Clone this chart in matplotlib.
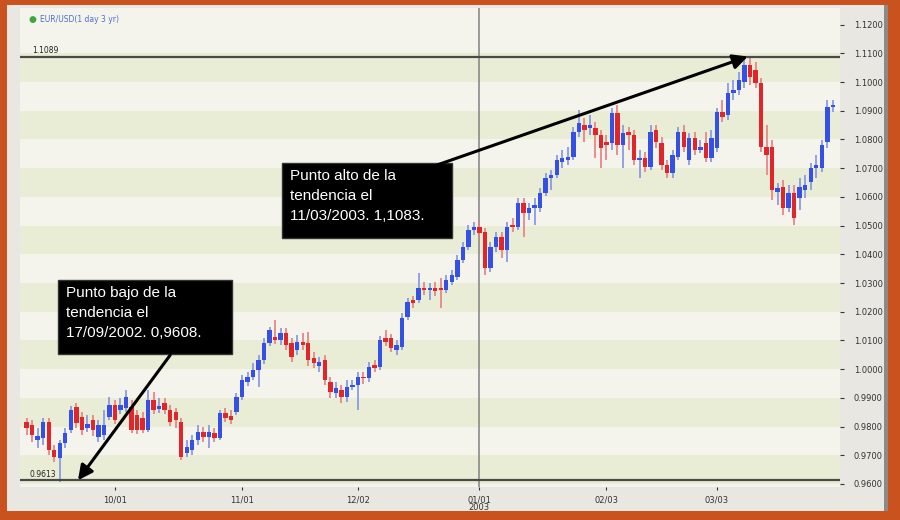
import numpy as np
import pandas as pd
import matplotlib
matplotlib.use('Agg')
import matplotlib.pyplot as plt
from matplotlib.patches import Rectangle

# EUR/USD daily candles, Sep 2002 - Mar 2003
dates = pd.bdate_range('2002-09-09', periods=147)

opens = [0.9816, 0.9806, 0.9753, 0.9760, 0.9816, 0.9718, 0.9691, 0.9743, 0.9788, 0.9868,
         0.9833, 0.9795, 0.9823, 0.9764, 0.9771, 0.9833, 0.9875, 0.9858, 0.9865, 0.9868,
         0.9840, 0.9830, 0.9788, 0.9893, 0.9861, 0.9882, 0.9858, 0.9851, 0.9816, 0.9708,
         0.9718, 0.9753, 0.9781, 0.9764, 0.9778, 0.9760, 0.9847, 0.9837, 0.9851, 0.9903,
         0.9955, 0.9973, 0.9997, 1.0032, 1.0091, 1.0112, 1.0102, 1.0126, 1.0091, 1.0067,
         1.0095, 1.0091, 1.0039, 1.0011, 1.0032, 0.9955, 0.9917, 0.9927, 0.9903, 0.9938,
         0.9945, 0.9973, 0.9969, 1.0015, 1.0008, 1.0109, 1.0109, 1.0067, 1.0077, 1.0182,
         1.0241, 1.0241, 1.0283, 1.0276, 1.0283, 1.0283, 1.0276, 1.0304, 1.0321, 1.0380,
         1.0426, 1.0485, 1.0495, 1.0478, 1.0353, 1.0426, 1.0461, 1.0415, 1.0502, 1.0495,
         1.0579, 1.0544, 1.0562, 1.0562, 1.0614, 1.0666, 1.0677, 1.0722, 1.0729, 1.0739,
         1.0826, 1.0851, 1.0840, 1.0840, 1.0816, 1.0792, 1.0788, 1.0893, 1.0781, 1.0826,
         1.0816, 1.0729, 1.0736, 1.0704, 1.0833, 1.0788, 1.0711, 1.0684, 1.0739, 1.0826,
         1.0729, 1.0805, 1.0764, 1.0788, 1.0736, 1.0771, 1.0896, 1.0886, 1.0962, 1.0973,
         1.1001, 1.1060, 1.1042, 1.0997, 1.0774, 1.0774, 1.0617, 1.0635, 1.0562, 1.0614,
         1.0596, 1.0624, 1.0652, 1.0701, 1.0701, 1.0792, 1.0913]
closes = [0.9795, 0.9771, 0.9767, 0.9816, 0.9718, 0.9694, 0.9743, 0.9778, 0.9858, 0.9813,
          0.9788, 0.9809, 0.9788, 0.9806, 0.9806, 0.9875, 0.9823, 0.9875, 0.9903, 0.9788,
          0.9788, 0.9788, 0.9893, 0.9858, 0.9872, 0.9858, 0.9816, 0.9823, 0.9694, 0.9729,
          0.9753, 0.9781, 0.9764, 0.9781, 0.9760, 0.9847, 0.9830, 0.9823, 0.9903, 0.9962,
          0.9973, 0.9997, 1.0032, 1.0091, 1.0137, 1.0102, 1.0126, 1.0084, 1.0042, 1.0095,
          1.0084, 1.0032, 1.0022, 1.0025, 0.9962, 0.9921, 0.9934, 0.9903, 0.9938, 0.9945,
          0.9973, 0.9969, 1.0008, 1.0004, 1.0102, 1.0095, 1.0074, 1.0084, 1.0178, 1.0234,
          1.0231, 1.0283, 1.0276, 1.0283, 1.0272, 1.0276, 1.0311, 1.0328, 1.0380, 1.0426,
          1.0485, 1.0495, 1.0474, 1.0353, 1.0426, 1.0461, 1.0415, 1.0495, 1.0495, 1.0579,
          1.0544, 1.0562, 1.0572, 1.0614, 1.0666, 1.0677, 1.0729, 1.0736, 1.0739, 1.0826,
          1.0858, 1.0833, 1.0851, 1.0816, 1.0771, 1.0781, 1.0893, 1.0781, 1.0823, 1.0816,
          1.0729, 1.0736, 1.0704, 1.0826, 1.0792, 1.0711, 1.0684, 1.0746, 1.0826, 1.0774,
          1.0805, 1.0764, 1.0774, 1.0736, 1.0805, 1.0896, 1.0879, 1.0962, 1.0973, 1.1008,
          1.1060, 1.1018, 1.0997, 1.0774, 1.0746, 1.0624, 1.0631, 1.0562, 1.0614, 1.0527,
          1.0635, 1.0642, 1.0701, 1.0711, 1.0781, 1.0913, 1.0920]
highs = [0.9830, 0.9823, 0.9795, 0.9830, 0.9830, 0.9736, 0.9753, 0.9795, 0.9872, 0.9882,
         0.9851, 0.9840, 0.9840, 0.9823, 0.9858, 0.9903, 0.9893, 0.9900, 0.9927, 0.9893,
         0.9858, 0.9851, 0.9927, 0.9921, 0.9900, 0.9900, 0.9875, 0.9865, 0.9830, 0.9753,
         0.9771, 0.9806, 0.9799, 0.9806, 0.9795, 0.9858, 0.9865, 0.9858, 0.9917, 0.9980,
         0.9990, 1.0022, 1.0049, 1.0109, 1.0147, 1.0171, 1.0144, 1.0144, 1.0109, 1.0119,
         1.0126, 1.0130, 1.0060, 1.0042, 1.0049, 0.9973, 0.9955, 0.9945, 0.9962, 0.9962,
         0.9990, 0.9990, 1.0025, 1.0032, 1.0116, 1.0137, 1.0123, 1.0102, 1.0196, 1.0248,
         1.0255, 1.0335, 1.0304, 1.0300, 1.0304, 1.0318, 1.0328, 1.0346, 1.0398, 1.0443,
         1.0502, 1.0513, 1.0513, 1.0492, 1.0443, 1.0478, 1.0478, 1.0513, 1.0527, 1.0596,
         1.0596, 1.0579, 1.0596, 1.0631, 1.0684, 1.0694, 1.0746, 1.0764, 1.0774, 1.0844,
         1.0903, 1.0875, 1.0886, 1.0861, 1.0833, 1.0816, 1.0910, 1.0920, 1.0851, 1.0844,
         1.0833, 1.0764, 1.0757, 1.0851, 1.0851, 1.0809, 1.0729, 1.0764, 1.0844, 1.0851,
         1.0823, 1.0826, 1.0799, 1.0826, 1.0833, 1.0910, 1.0938, 1.0997, 1.1008, 1.1035,
         1.1077, 1.1083, 1.1070, 1.1014, 1.0851, 1.0799, 1.0649, 1.0659, 1.0642, 1.0642,
         1.0666, 1.0677, 1.0718, 1.0746, 1.0799, 1.0938, 1.0938]
lows = [0.9771, 0.9746, 0.9725, 0.9736, 0.9701, 0.9677, 0.9608, 0.9725, 0.9778, 0.9795,
        0.9771, 0.9781, 0.9767, 0.9746, 0.9753, 0.9823, 0.9809, 0.9844, 0.9851, 0.9778,
        0.9774, 0.9778, 0.9781, 0.9844, 0.9847, 0.9844, 0.9802, 0.9795, 0.9684, 0.9694,
        0.9701, 0.9736, 0.9746, 0.9725, 0.9746, 0.9753, 0.9816, 0.9809, 0.9840, 0.9893,
        0.9941, 0.9962, 0.9938, 1.0018, 1.0081, 1.0088, 1.0084, 1.0067, 1.0025, 1.0049,
        1.0067, 1.0011, 1.0004, 0.9990, 0.9945, 0.9900, 0.9900, 0.9882, 0.9886, 0.9927,
        0.9858, 0.9948, 0.9955, 0.9990, 0.9997, 1.0081, 1.0060, 1.0049, 1.0067, 1.0171,
        1.0213, 1.0231, 1.0258, 1.0241, 1.0255, 1.0213, 1.0265, 1.0293, 1.0311, 1.0370,
        1.0415, 1.0468, 1.0457, 1.0328, 1.0339, 1.0408, 1.0387, 1.0373, 1.0478, 1.0485,
        1.0461, 1.0520, 1.0502, 1.0548, 1.0603, 1.0624, 1.0666, 1.0701, 1.0711, 1.0729,
        1.0809, 1.0792, 1.0816, 1.0736, 1.0701, 1.0729, 1.0764, 1.0746, 1.0701, 1.0764,
        1.0711, 1.0666, 1.0687, 1.0694, 1.0771, 1.0694, 1.0666, 1.0666, 1.0729, 1.0757,
        1.0711, 1.0746, 1.0753, 1.0722, 1.0722, 1.0757, 1.0861, 1.0868, 1.0938, 1.0955,
        1.0980, 1.0990, 1.0980, 1.0757, 1.0677, 1.0589, 1.0572, 1.0537, 1.0548, 1.0502,
        1.0555, 1.0596, 1.0624, 1.0666, 1.0687, 1.0771, 1.0896]

tick_dates = ['2002-10-01', '2002-11-01', '2002-12-02', '2003-01-01', '2003-02-03', '2003-03-03']
tick_labels = ['10/01', '11/01', '12/02', '01/01\n2003', '02/03', '03/03']
price_ticks = np.round(np.arange(0.96, 1.1201, 0.01), 2)
high_level = 1.1089
low_level = 0.9613
year_break = '2003-01-01'

low_note = 'Punto bajo de la\ntendencia el\n17/09/2002. 0,9608.'
high_note = 'Punto alto de la\ntendencia el\n11/03/2003. 1,1083.'
low_date, low_price = '2002-09-17', 0.9608
high_date, high_price = '2003-03-11', 1.1083

RED = '#e0262b'
BLUE = '#3550e4'
RED_WICK = '#ea7d80'
BLUE_WICK = '#8193e6'

fig = plt.figure(figsize=(9, 5.2), dpi=100)
fig.patch.set_facecolor('#c9521f')
fig.add_artist(Rectangle((7/900, 9/520), 880/900, 506/520, transform=fig.transFigure,
                         facecolor='#e9e7e2', edgecolor='none', zorder=0))
fig.add_artist(Rectangle((884/900, 9/520), 4/900, 506/520, transform=fig.transFigure,
                         facecolor='#8c8a88', edgecolor='none', zorder=0))

ax = fig.add_axes([20/900, 33/520, 820/900, 479/520])
ax.set_facecolor('#f4f4ed')

idx = np.arange(len(dates))
ax.set_xlim(-1.2, 147.3)
ax.set_ylim(0.95895, 1.1258)

# alternating price bands
for k, lvl in enumerate(price_ticks[:-1]):
    if k % 2 == 0:
        ax.axhspan(lvl, lvl + 0.01, color='#e9edd6', lw=0, zorder=0)

# candles
for i in idx:
    up = closes[i] >= opens[i]
    ax.vlines(i, lows[i], highs[i], color=BLUE_WICK if up else RED_WICK, lw=1.2, zorder=2)
    ax.bar(i, closes[i] - opens[i], bottom=opens[i], width=0.8,
           color=BLUE if up else RED, lw=0, zorder=3)

# reference lines
ax.axhline(high_level, color='#4a4a4a', lw=1.6, zorder=4)
ax.axhline(low_level, color='#4a4a4a', lw=1.6, zorder=4)
ax.axvline(dates.get_loc(pd.Timestamp(year_break)), color='#8a8a8a', lw=1.2, zorder=1)
ax.text(1.0, high_level + 0.0006, f'{high_level:.4f}', fontsize=5.5, color='#222', va='bottom')
ax.text(0.6, low_level + 0.0006, f'{low_level:.4f}', fontsize=5.5, color='#222', va='bottom')

ax.text(0.010, 0.975, '\u25CF', transform=ax.transAxes, color='#3aa83a', fontsize=6.5, va='center')
ax.text(0.024, 0.975, 'EUR/USD(1 day 3 yr)', transform=ax.transAxes, color='#4a6fd0',
        fontsize=5.5, va='center')

# axes styling
for s in ax.spines.values():
    s.set_visible(False)
ax.yaxis.tick_right()
ax.set_yticks(price_ticks)
ax.set_yticklabels([f'{p:.4f}' for p in price_ticks])
ax.tick_params(axis='y', length=3, width=0.8, pad=7, labelsize=6, colors='#333')
ax.set_xticks([dates.get_loc(pd.Timestamp(d)) for d in tick_dates])
ax.set_xticklabels(tick_labels, linespacing=0.85)
ax.tick_params(axis='x', length=2, width=0.8, pad=4, labelsize=6, colors='#333')

# annotation boxes
font = ['Liberation Sans', 'DejaVu Sans']
for (x0, y0, w, h), note in [((0.0463, 0.278, 0.2122, 0.1536), low_note),
                             ((0.3195, 0.520, 0.2073, 0.1558), high_note)]:
    ax.add_patch(Rectangle((x0, y0), w, h, transform=ax.transAxes, facecolor='black',
                           edgecolor='#333', zorder=6))
    ax.text(x0 + 0.0098, y0 + h - 0.012, note, transform=ax.transAxes, color='white',
            fontsize=11, family=font, va='top', ha='left', linespacing=1.55, zorder=7)

arrow = dict(arrowstyle='-|>', lw=2.2, color='black', mutation_scale=22,
             shrinkA=0, shrinkB=0)
ax.annotate('', xy=(dates.get_loc(pd.Timestamp(low_date)) + 3.3, low_level),
            xytext=(26.0, 1.0049), arrowprops=arrow, zorder=8)
ax.annotate('', xy=(dates.get_loc(pd.Timestamp(high_date)) - 0.4, high_level),
            xytext=(74.3, 1.0711), arrowprops=arrow, zorder=8)

fig.savefig('out.png', dpi=100, facecolor=fig.get_facecolor())
